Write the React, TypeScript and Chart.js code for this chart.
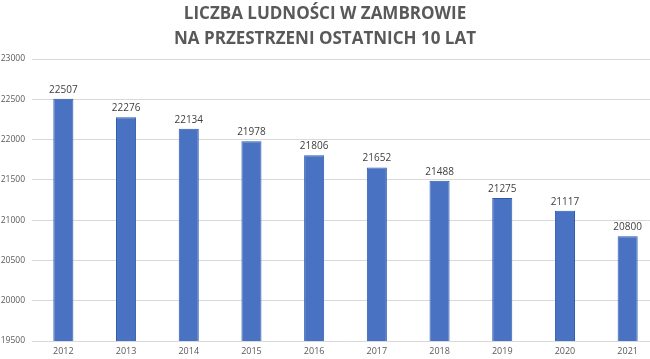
import React, { useEffect, useRef } from "react";
import { Chart, registerables } from "chart.js";

Chart.register(...registerables);

const TITLE_LINES = ["LICZBA LUDNOŚCI W ZAMBROWIE", "NA PRZESTRZENI OSTATNICH 10 LAT"];
const YEARS = ["2012", "2013", "2014", "2015", "2016", "2017", "2018", "2019", "2020", "2021"];
const POPULATION = [22507, 22276, 22134, 21978, 21806, 21652, 21488, 21275, 21117, 20800];
const Y_MIN = 19500;
const Y_MAX = 23000;
const Y_STEP = 500;

const FONT = "'Open Sans', 'Liberation Sans', sans-serif";

const titlePlugin = {
  id: "customTitle",
  afterDraw(chart: any) {
    const ctx = chart.ctx;
    ctx.save();
    ctx.fillStyle = "#595959";
    ctx.font = `700 17px ${FONT}`;
    ctx.textAlign = "center";
    ctx.textBaseline = "middle";
    ctx.fillText(TITLE_LINES[0], 325, 14);
    ctx.fillText(TITLE_LINES[1], 325, 39);
    ctx.restore();
  },
};

const labelPlugin = {
  id: "barLabels",
  afterDatasetsDraw(chart: any) {
    const ctx = chart.ctx;
    const meta = chart.getDatasetMeta(0);
    const data = chart.data.datasets[0].data;
    ctx.save();
    ctx.fillStyle = "#404040";
    ctx.font = `10px ${FONT}`;
    ctx.textAlign = "center";
    ctx.textBaseline = "bottom";
    meta.data.forEach((bar: any, i: number) => {
      ctx.fillText(String(data[i]), bar.x, bar.y - 4);
    });
    ctx.restore();
  },
};

export default function App() {
  const ref = useRef<HTMLCanvasElement>(null);
  useEffect(() => {
    const chart = new Chart(ref.current!, {
      type: "bar",
      data: {
        labels: YEARS,
        datasets: [
          {
            data: POPULATION,
            backgroundColor: "#4A72C2",
            borderColor: "#2C5AAE",
            borderWidth: 1,
            barPercentage: 0.32,
            categoryPercentage: 1,
          },
        ],
      },
      options: {
        animation: false,
        responsive: false,
        devicePixelRatio: 1,
        layout: { padding: { top: 59, right: 0, left: 0, bottom: 0 } },
        plugins: { legend: { display: false }, tooltip: { enabled: false }, title: { display: false } },
        scales: {
          x: {
            grid: { display: false, drawTicks: false },
            border: { display: false },
            ticks: { color: "#595959", font: { family: FONT, size: 9 }, padding: 5 },
            afterFit: (s: any) => {
              s.height = 18;
            },
          },
          y: {
            min: Y_MIN,
            max: Y_MAX,
            ticks: {
              stepSize: Y_STEP,
              color: "#595959",
              font: { family: FONT, size: 8.5 },
              padding: 7,
              callback: (v: any) => String(v),
            },
            grid: { color: "#D9D9D9", lineWidth: 1, drawTicks: false },
            border: { display: false },
            afterFit: (s: any) => {
              s.width = 32;
            },
          },
        },
      },
      plugins: [titlePlugin, labelPlugin],
    });
    return () => chart.destroy();
  }, []);
  return (
    <div style={{ position: "fixed", left: 0, top: 0, width: 650, height: 359, overflow: "hidden", background: "#fff" }}>
      <canvas ref={ref} width={659} height={359} style={{ width: 659, height: 359 }} />
    </div>
  );
}
